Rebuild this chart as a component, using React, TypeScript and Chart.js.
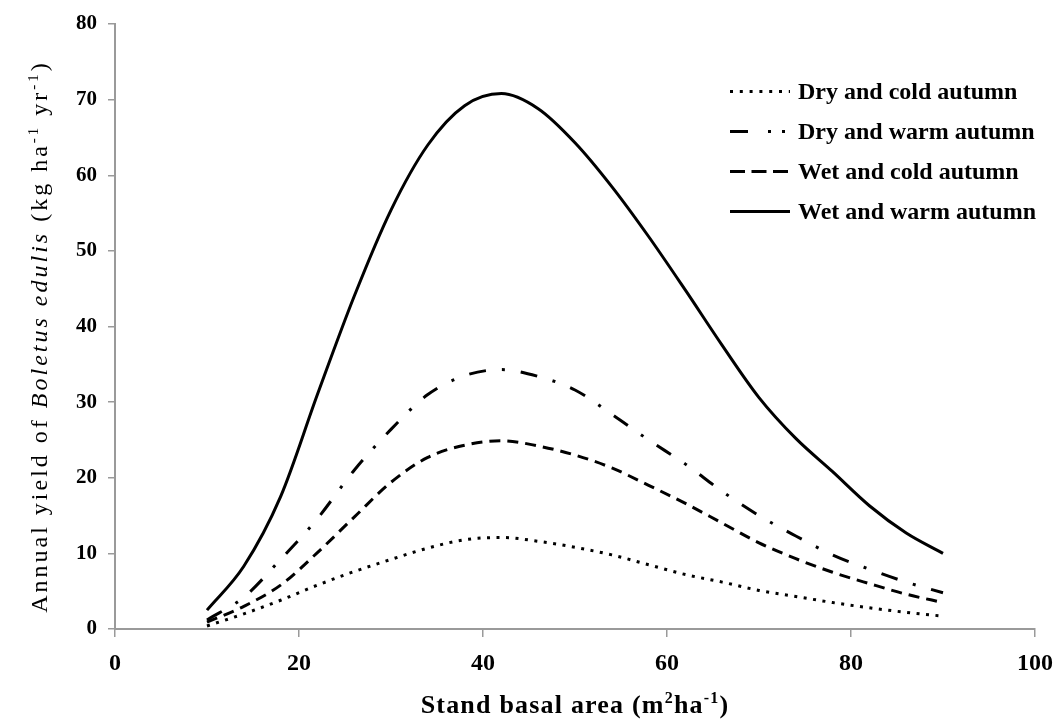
import React, { useEffect, useRef } from "react";
import { Chart, registerables } from "chart.js";

Chart.register(...registerables);

// Stand basal area (m2 ha-1)
const basalArea = [10, 14, 18, 22, 26, 30, 34, 38, 42, 46, 50, 54, 58, 62, 66, 70, 74, 78, 82, 86, 90];
// Annual yield of Boletus edulis (kg ha-1 yr-1)
const dryCold = [0.4, 2.0, 3.8, 5.8, 7.6, 9.2, 10.7, 11.8, 12.1, 11.6, 10.8, 9.8, 8.5, 7.2, 6.2, 5.1, 4.3, 3.5, 2.8, 2.2, 1.7];
const dryWarm = [1.2, 4.2, 9.2, 14.6, 21.0, 26.4, 31.0, 33.5, 34.3, 33.4, 31.6, 28.4, 25.0, 21.8, 18.2, 15.0, 12.3, 9.8, 7.9, 6.2, 4.8];
const wetCold = [0.9, 3.0, 5.8, 10.1, 14.8, 19.4, 22.7, 24.3, 24.9, 24.2, 23.0, 21.3, 19.0, 16.6, 14.0, 11.4, 9.3, 7.5, 6.0, 4.6, 3.5];
const wetWarm = [2.5, 8.3, 17.5, 31.0, 44.0, 55.4, 64.0, 69.2, 70.8, 68.8, 64.3, 58.5, 51.9, 44.8, 37.5, 30.6, 25.2, 20.8, 16.3, 12.7, 10.0];

const seriesLabels = ["Dry and cold autumn", "Dry and warm autumn", "Wet and cold autumn", "Wet and warm autumn"];
const xTickValues = [0, 20, 40, 60, 80, 100];
const yTickValues = [0, 10, 20, 30, 40, 50, 60, 70, 80];

const SERIF = '"Liberation Serif", "Times New Roman", serif';

const curveDashes = [[3, 6.5], [17, 16, 3, 16], [11, 7], []];
const legendDashes = [[3, 6.8], [18, 20, 3, 11, 3, 40], [15, 6.5], []];

type Seg = { t: string; f: string; dy?: number };

function drawRich(ctx: CanvasRenderingContext2D, segs: Seg[], cx: number, baseline: number, spacing: number) {
  ctx.save();
  (ctx as any).letterSpacing = spacing + "px";
  ctx.textAlign = "left";
  ctx.textBaseline = "alphabetic";
  let total = 0;
  const widths = segs.map((s) => {
    ctx.font = s.f;
    const w = ctx.measureText(s.t).width;
    total += w;
    return w;
  });
  let x = cx - total / 2;
  segs.forEach((s, i) => {
    ctx.font = s.f;
    ctx.fillStyle = "#000";
    ctx.fillText(s.t, x, baseline + (s.dy || 0));
    x += widths[i];
  });
  ctx.restore();
}

const annotationsPlugin = {
  id: "annotations",
  afterDraw(chart: any) {
    const ctx: CanvasRenderingContext2D = chart.ctx;
    const area = chart.chartArea;

    // Legend inside the plot area
    chart.data.datasets.forEach((ds: any, i: number) => {
      const y = area.top + 67.5 + i * 40;
      const x0 = area.right - 305;
      ctx.save();
      ctx.strokeStyle = "#000";
      ctx.lineWidth = 3;
      ctx.lineCap = "butt";
      ctx.setLineDash(legendDashes[i]);
      ctx.beginPath();
      ctx.moveTo(x0, y);
      ctx.lineTo(x0 + 60, y);
      ctx.stroke();
      ctx.restore();
      ctx.save();
      ctx.font = `bold 24px ${SERIF}`;
      ctx.fillStyle = "#000";
      ctx.textAlign = "left";
      ctx.textBaseline = "middle";
      ctx.fillText(ds.label, x0 + 68, y + 1);
      ctx.restore();
    });

    // X axis title
    const cx = (area.left + area.right) / 2;
    const bf = `bold 26px ${SERIF}`;
    const bs = `bold 16px ${SERIF}`;
    drawRich(
      ctx,
      [
        { t: "Stand basal area (m", f: bf },
        { t: "2", f: bs, dy: -10 },
        { t: "ha", f: bf },
        { t: "-1", f: bs, dy: -10 },
        { t: ")", f: bf },
      ],
      cx,
      713,
      1.2
    );

    // Y axis title (rotated)
    const cy = (area.top + area.bottom) / 2 + 10;
    ctx.save();
    ctx.translate(47, cy);
    ctx.rotate(-Math.PI / 2);
    const nf = `24px ${SERIF}`;
    const itf = `italic 24px ${SERIF}`;
    const sf = `15px ${SERIF}`;
    drawRich(
      ctx,
      [
        { t: "Annual yield of ", f: nf },
        { t: "Boletus edulis", f: itf },
        { t: " (kg ha", f: nf },
        { t: "-1", f: sf, dy: -9 },
        { t: " yr", f: nf },
        { t: "-1", f: sf, dy: -9 },
        { t: ")", f: nf },
      ],
      0,
      0,
      3
    );
    ctx.restore();
  },
};

export default function App() {
  const canvasRef = useRef<HTMLCanvasElement | null>(null);

  useEffect(() => {
    document.body.style.margin = "0";
    const canvas = canvasRef.current;
    if (!canvas) return;
    const seriesValues = [dryCold, dryWarm, wetCold, wetWarm];
    const datasets = seriesValues.map((vals, i) => ({
      label: seriesLabels[i],
      data: basalArea.map((x, j) => ({ x, y: vals[j] })),
      borderColor: "#000",
      backgroundColor: "#000",
      borderWidth: 3,
      borderDash: curveDashes[i],
      borderCapStyle: "butt" as const,
      pointRadius: 0,
      fill: false,
      cubicInterpolationMode: "monotone" as const,
    }));

    const chart = new Chart(canvas, {
      type: "line",
      data: { datasets },
      plugins: [annotationsPlugin],
      options: {
        animation: false,
        responsive: false,
        devicePixelRatio: 1,
        layout: { padding: { top: 24, right: 24, left: 0, bottom: 0 } },
        plugins: {
          legend: { display: false },
          tooltip: { enabled: false },
          title: { display: false },
        },
        scales: {
          x: {
            type: "linear",
            min: 0,
            max: 100,
            afterBuildTicks: (scale: any) => {
              scale.ticks = xTickValues.map((v) => ({ value: v }));
            },
            afterFit: (scale: any) => {
              scale.height = 96;
              scale.paddingRight = 0;
              scale.paddingLeft = 0;
            },
            ticks: {
              font: { family: SERIF, size: 24, weight: "bold" },
              color: "#000",
              padding: 12,
              maxRotation: 0,
            },
            grid: {
              display: true,
              drawOnChartArea: false,
              drawTicks: true,
              tickLength: 8,
              color: "#9a9a9a",
              lineWidth: 1.5,
            },
            border: { display: true, color: "#9a9a9a", width: 2 },
          },
          y: {
            type: "linear",
            min: 0,
            max: 80,
            afterBuildTicks: (scale: any) => {
              scale.ticks = yTickValues.map((v) => ({ value: v }));
            },
            afterFit: (scale: any) => {
              scale.width = 115;
            },
            ticks: {
              font: { family: SERIF, size: 21, weight: "bold" },
              color: "#000",
              padding: 11,
            },
            grid: {
              display: true,
              drawOnChartArea: false,
              drawTicks: true,
              tickLength: 7,
              color: "#9a9a9a",
              lineWidth: 1.5,
            },
            border: { display: true, color: "#9a9a9a", width: 2 },
          },
        },
      },
    });
    return () => chart.destroy();
  }, []);

  return (
    <div style={{ width: 1059, height: 725, position: "relative" }}>
      <canvas ref={canvasRef} width={1059} height={725} style={{ display: "block" }} />
    </div>
  );
}
